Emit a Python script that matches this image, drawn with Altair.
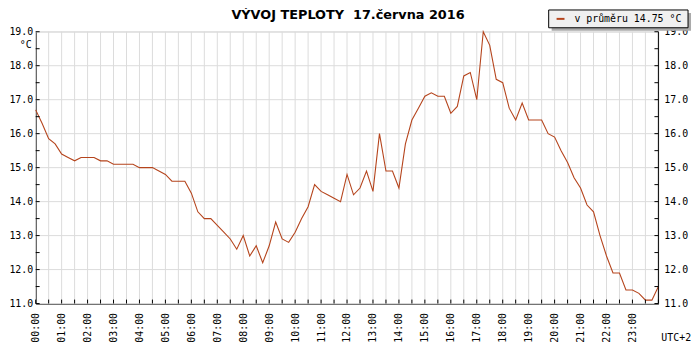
import altair as alt
import pandas as pd

TITLE = "VÝVOJ TEPLOTY\u00a0\u00a017.června 2016"
LEGEND_LABEL = "v průměru 14.75 °C"
UNIT = "°C"
TZ = "UTC+2"

STEP_MIN = 15
temps = [
    16.7, 16.3, 15.85, 15.7, 15.4, 15.3, 15.2, 15.3, 15.3, 15.3, 15.2, 15.2,
    15.1, 15.1, 15.1, 15.1, 15.0, 15.0, 15.0, 14.9,
    14.8, 14.6, 14.6, 14.6, 14.25, 13.7, 13.5, 13.5, 13.3, 13.1, 12.9, 12.6,
    13.0, 12.4, 12.7, 12.2, 12.7, 13.4, 12.9, 12.8,
    13.1, 13.5, 13.85, 14.5, 14.3, 14.2, 14.1, 14.0, 14.8, 14.2, 14.4, 14.9,
    14.3, 16.0, 14.9, 14.9, 14.4, 15.7, 16.4, 16.75,
    17.1, 17.2, 17.1, 17.1, 16.6, 16.8, 17.7, 17.8, 17.0, 19.0, 18.6, 17.6,
    17.5, 16.75, 16.4, 16.9, 16.4, 16.4, 16.4, 16.0,
    15.9, 15.5, 15.15, 14.7, 14.4, 13.9, 13.7, 13.0, 12.4, 11.9, 11.9, 11.4,
    11.4, 11.3, 11.1, 11.1, 11.5,
]
minutes = [i * STEP_MIN for i in range(len(temps))]

hour_labels = [h * 60 for h in range(24)]
half_hours = list(range(0, 1441, 30))
temp_grid = list(range(11, 20))
temp_ticks = [11 + 0.5 * i for i in range(17)]

LINE_COLOR = "#b5441c"
GRID_COLOR = "#dcdcdc"
FONT = "DejaVu Sans Mono"
FS = 10

W, H = 630, 275

df = pd.DataFrame({"m": minutes, "t": temps})
df_vx = pd.DataFrame({"m": half_hours})
df_hy = pd.DataFrame({"t": temp_grid})
df_ty = pd.DataFrame({"t": temp_ticks})
df_one = pd.DataFrame({"label": [LEGEND_LABEL], "unit": [UNIT], "tz": [TZ], "title": [TITLE]})

xs = alt.Scale(domain=[0, 1440], nice=False, zero=False)
ys = alt.Scale(domain=[11, 19], nice=False, zero=False)

x_axis = alt.Axis(
    values=hour_labels,
    labelExpr="(datum.value < 600 ? '0' : '') + floor(datum.value / 60) + ':00'",
    labelAngle=270,
    labelAlign="right",
    labelBaseline="middle",
    labelPadding=9,
    labelFont=FONT,
    labelFontSize=FS,
    labelColor="#000000",
    ticks=False,
    grid=False,
    domainColor="#000000",
    domainWidth=1,
    title=None,
    labelOverlap=False,
)
y_axis = alt.Axis(
    orient="left",
    values=temp_grid,
    format=".1f",
    ticks=False,
    grid=False,
    labelPadding=3,
    labelFont=FONT,
    labelFontSize=FS,
    labelColor="#000000",
    domainColor="#000000",
    title=None,
)


def X():
    return alt.X("m:Q", scale=xs, axis=x_axis)


def Y(field="t:Q"):
    return alt.Y(field, scale=ys, axis=y_axis)


grid_v = alt.Chart(df_vx).mark_rule(color=GRID_COLOR, strokeWidth=1).encode(x=X())
grid_h = alt.Chart(df_hy).mark_rule(color=GRID_COLOR, strokeWidth=1).encode(y=Y())

line = alt.Chart(df).mark_line(color=LINE_COLOR, strokeWidth=1.1, interpolate="linear").encode(
    x=X(), y=Y()
)

right_domain = alt.Chart(df_one).mark_rule(color="#000000").encode(
    x=alt.value(W), y=alt.value(0), y2=alt.value(H)
)
right_labels = alt.Chart(df_hy).mark_text(
    font=FONT, fontSize=FS, align="left", baseline="middle", color="#000000", dx=6
).encode(y=Y(), x=alt.value(W), text=alt.Text("t:Q", format=".1f"))

tick_x = alt.Chart(df_vx).mark_rule(color="#000000").encode(
    x=X(), y=alt.value(H - 4), y2=alt.value(H)
)
tick_l = alt.Chart(df_ty).mark_rule(color="#000000").encode(
    y=Y(), x=alt.value(0), x2=alt.value(4)
)
tick_r = alt.Chart(df_ty).mark_rule(color="#000000").encode(
    y=Y(), x=alt.value(W - 4), x2=alt.value(W)
)

unit_txt = alt.Chart(df_one).mark_text(
    font=FONT, fontSize=FS, align="right", baseline="middle", color="#000000"
).encode(text="unit:N", x=alt.value(-4), y=alt.value(13))

tz_txt = alt.Chart(df_one).mark_text(
    font=FONT, fontSize=FS, align="left", baseline="middle", color="#000000"
).encode(text="tz:N", x=alt.value(W + 3), y=alt.value(H + 35))

title_txt = alt.Chart(df_one).mark_text(
    font="DejaVu Sans", fontSize=13, fontWeight="bold", align="center",
    baseline="alphabetic", color="#000000"
).encode(text="title:N", x=alt.value(W / 2 + 1), y=alt.value(-13))

# legend box
LX0, LX1, LY0, LY1 = 519, 660, -22, -4
shadow = alt.Chart(df_one).mark_rect(color="#aaaaaa").encode(
    x=alt.value(LX0 + 3), x2=alt.value(LX1 + 3), y=alt.value(LY0 + 3), y2=alt.value(LY1 + 3)
)
box = alt.Chart(df_one).mark_rect(fill="#f0f0f0", stroke="#000000", strokeWidth=1).encode(
    x=alt.value(LX0), x2=alt.value(LX1), y=alt.value(LY0), y2=alt.value(LY1)
)
leg_line = alt.Chart(df_one).mark_rule(color=LINE_COLOR, strokeWidth=2).encode(
    x=alt.value(LX0 + 8), x2=alt.value(LX0 + 16), y=alt.value((LY0 + LY1) / 2)
)
leg_txt = alt.Chart(df_one).mark_text(
    font=FONT, fontSize=FS, align="left", baseline="middle", color="#000000"
).encode(text="label:N", x=alt.value(LX0 + 26), y=alt.value((LY0 + LY1) / 2))

chart = alt.layer(
    grid_v, grid_h, line, tick_x, tick_l, tick_r, right_domain, right_labels,
    unit_txt, tz_txt, title_txt, shadow, box, leg_line, leg_txt,
).properties(
    width=W,
    height=H,
    padding={"left": 28, "top": 22, "right": 34, "bottom": 45},
    autosize=alt.AutoSizeParams(type="none"),
).configure_view(stroke=None).configure(background="#ffffff")

chart.save("out.html", embed_options={"renderer": "svg", "actions": False})
